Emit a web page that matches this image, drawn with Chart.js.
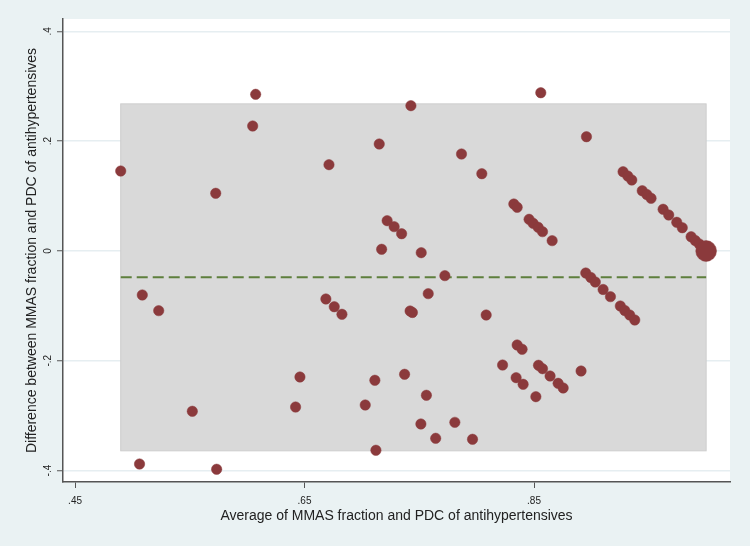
<!DOCTYPE html>
<html>
<head>
<meta charset="utf-8">
<script src="https://cdn.jsdelivr.net/npm/chart.js@4/dist/chart.umd.min.js"></script>
<style>
html, body { margin: 0; padding: 0; background: #eaf2f3; }
</style>
</head>
<body>
<canvas id="blandaltman" width="750" height="546"></canvas>
<script>
// average of the two measures (x) and their difference (y)
const avgVals = [
    0.4898, 0.5062, 0.5086, 0.5229, 0.5522, 0.5726, 0.5734, 0.6048, 0.6074, 0.6422,
    0.6460, 0.6686, 0.6713, 0.6759, 0.6826, 0.7029, 0.7113, 0.7122, 0.7151, 0.7172,
    0.7220, 0.7281, 0.7346, 0.7372, 0.7420, 0.7440, 0.7427, 0.7517, 0.7514, 0.7578,
    0.7562, 0.7643, 0.7723, 0.7810, 0.7868, 0.7964, 0.8045, 0.8083, 0.8226, 0.8324,
    0.8353, 0.8344, 0.8353, 0.8396, 0.8405, 0.8457, 0.8492, 0.8536, 0.8574, 0.8658,
    0.8516, 0.8539, 0.8574, 0.8640, 0.8710, 0.8754, 0.8559, 0.8910, 0.8957, 0.8951,
    0.8995, 0.9034, 0.9102, 0.9166, 0.9252, 0.9291, 0.9334, 0.9378, 0.9276, 0.9317,
    0.9352, 0.9443, 0.9483, 0.9520, 0.9625, 0.9674, 0.9744, 0.9792, 0.9869, 0.9905,
    0.9940, 0.9970, 1.0000
];
const diffVals = [
    0.1457, -0.3880, -0.0801, -0.1087, -0.2920, 0.1051, -0.3976, 0.2277, 0.2854, -0.2842,
    -0.2295, -0.0874, 0.1572, -0.1015, -0.1153, -0.2805, -0.2355, -0.3630, 0.1949, 0.0031,
    0.0552, 0.0443, 0.0315, -0.2246, -0.1093, -0.1120, 0.2647, -0.0031, -0.3151, -0.0777,
    -0.2628, -0.3412, -0.0449, -0.3121, 0.1767, -0.3430, 0.1408, -0.1166, -0.2077, 0.0856,
    0.0796, -0.2308, -0.1712, -0.1790, -0.2428, 0.0577, 0.0505, 0.0432, 0.0352, 0.0188,
    -0.2654, -0.2082, -0.2144, -0.2277, -0.2410, -0.2495, 0.2883, -0.2186, 0.2082, -0.0401,
    -0.0483, -0.0565, -0.0701, -0.0832, -0.1002, -0.1084, -0.1166, -0.1257, 0.1444, 0.1366,
    0.1293, 0.1098, 0.1029, 0.0960, 0.0760, 0.0656, 0.0523, 0.0424, 0.0260, 0.0191,
    0.0128, 0.0064, 0.0000
];
// frequency of each (avg, diff) pair
const weights = avgVals.map((v, i) => i === avgVals.length - 1 ? 4 : 1);

const meanDiff = -0.048;
const upperLoA = 0.268;
const lowerLoA = -0.364;

const xTickVals = [0.45, 0.65, 0.85];
const xTickLabels = [".45", ".65", ".85"];
const yTickVals = [-0.4, -0.2, 0, 0.2, 0.4];
const yTickLabels = ["-.4", "-.2", "0", ".2", ".4"];

const xTitle = "Average of MMAS fraction and PDC of antihypertensives";
const yTitle = "Difference between MMAS fraction and PDC of antihypertensives";

const FONT = "'Liberation Sans', Arial, Helvetica, sans-serif";
const xMin = Math.min(...avgVals);
const xMax = Math.max(...avgVals);

const stataLook = {
    id: "stataLook",
    beforeDraw(chart) {
        const { ctx, chartArea: a } = chart;
        ctx.save();
        ctx.fillStyle = "#eaf2f3";
        ctx.fillRect(0, 0, chart.width, chart.height);
        ctx.fillStyle = "#ffffff";
        ctx.fillRect(a.left, a.top, a.right - a.left, a.bottom - a.top);
        ctx.restore();
    },
    beforeDatasetsDraw(chart) {
        // limits of agreement band
        const { ctx, scales: { x, y } } = chart;
        const x0 = x.getPixelForValue(xMin), x1 = x.getPixelForValue(xMax);
        const y0 = y.getPixelForValue(upperLoA), y1 = y.getPixelForValue(lowerLoA);
        ctx.save();
        ctx.fillStyle = "#d9d9d9";
        ctx.fillRect(x0, y0, x1 - x0, y1 - y0);
        ctx.strokeStyle = "#cdcdcd";
        ctx.lineWidth = 1;
        ctx.strokeRect(x0, y0, x1 - x0, y1 - y0);
        ctx.restore();
    },
    afterDraw(chart) {
        const { ctx, chartArea: a, scales: { x, y } } = chart;
        ctx.save();
        ctx.fillStyle = "#222";
        ctx.textBaseline = "alphabetic";
        ctx.textAlign = "center";

        ctx.font = "10px " + FONT;
        xTickVals.forEach((v, i) => {
            ctx.fillText(xTickLabels[i], x.getPixelForValue(v), 503.5);
        });
        yTickVals.forEach((v, i) => {
            ctx.save();
            ctx.translate(50.5, y.getPixelForValue(v));
            ctx.rotate(-Math.PI / 2);
            ctx.fillText(yTickLabels[i], 0, 0);
            ctx.restore();
        });

        ctx.font = "14px " + FONT;
        ctx.fillText(xTitle, (a.left + a.right) / 2, 520);
        ctx.save();
        ctx.translate(35.5, (a.top + a.bottom) / 2);
        ctx.rotate(-Math.PI / 2);
        ctx.fillText(yTitle, 0, 0);
        ctx.restore();
        ctx.restore();
    }
};

const el = document.getElementById("blandaltman");

new Chart(el, {
    type: "scatter",
    data: {
        datasets: [{
            label: "Difference",
            data: avgVals.map((v, i) => ({ x: v, y: diffVals[i] })),
            backgroundColor: "#8b3a3c",
            borderColor: "#8b3a3c",
            borderWidth: 0.5,
            pointRadius: ctx => 5.2 * Math.sqrt(weights[ctx.dataIndex] || 1),
            pointHoverRadius: ctx => 5.2 * Math.sqrt(weights[ctx.dataIndex] || 1)
        }, {
            label: "Mean difference",
            type: "line",
            data: [{ x: xMin, y: meanDiff }, { x: xMax, y: meanDiff }],
            borderColor: "#5e7f3d",
            borderWidth: 2,
            borderDash: [11, 5],
            pointRadius: 0,
            fill: false
        }]
    },
    options: {
        responsive: false,
        animation: false,
        layout: { padding: { top: 19, right: 20, left: 0, bottom: 0 } },
        plugins: {
            legend: { display: false },
            tooltip: { enabled: false }
        },
        scales: {
            x: {
                type: "linear",
                min: 0.4395,
                max: 1.0208,
                afterBuildTicks: s => { s.ticks = xTickVals.map(v => ({ value: v })); },
                afterFit: s => { s.height = 64; },
                ticks: { display: false },
                grid: {
                    drawOnChartArea: false,
                    tickLength: 6,
                    tickColor: "#555",
                    tickWidth: 1
                },
                border: { color: "#555", width: 1.5 }
            },
            y: {
                type: "linear",
                min: -0.4208,
                max: 0.4226,
                afterBuildTicks: s => { s.ticks = yTickVals.map(v => ({ value: v })); },
                afterFit: s => { s.width = 63; },
                ticks: { display: false },
                grid: {
                    color: "#e6eef1",
                    lineWidth: 1.5,
                    tickLength: 6,
                    tickColor: "#555",
                    tickWidth: 1
                },
                border: { color: "#555", width: 1.5 }
            }
        }
    },
    plugins: [stataLook]
});
</script>
</body>
</html>
